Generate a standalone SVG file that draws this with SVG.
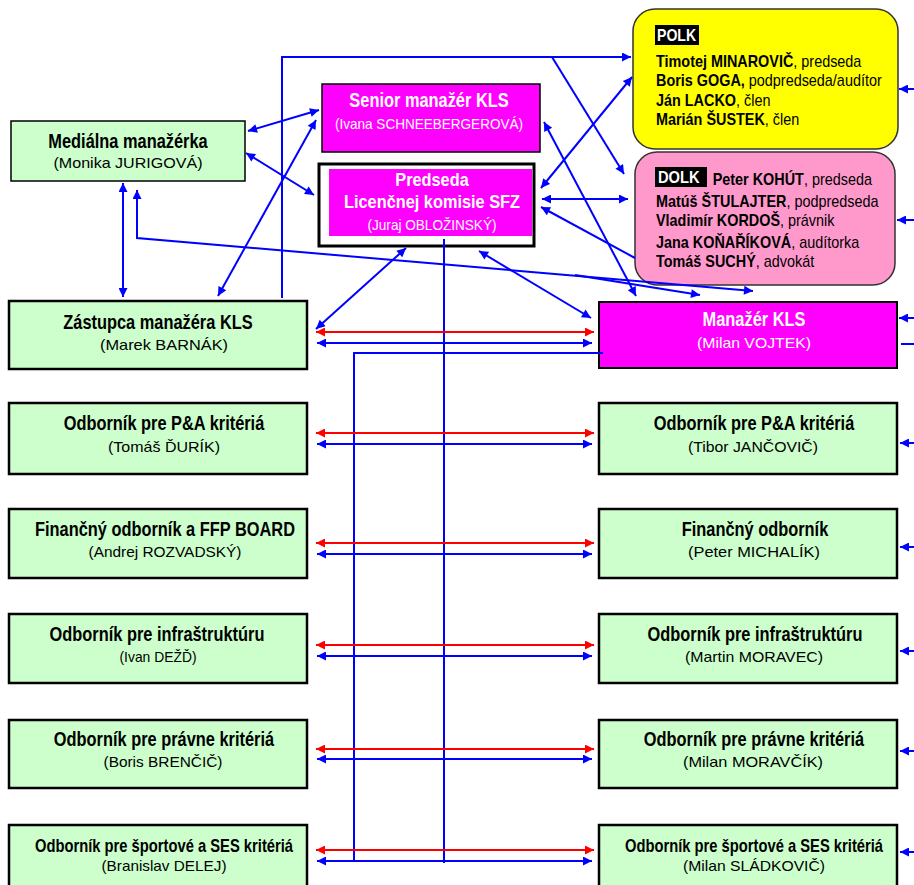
<svg xmlns="http://www.w3.org/2000/svg" width="914" height="885" viewBox="0 0 914 885">
<style>
.g{fill:#ccffcc;stroke:#000;stroke-width:2.5}
.m{fill:#ff00ff;stroke:#000;stroke-width:2}
.t{font-family:"Liberation Sans",Arial,sans-serif;font-weight:bold;font-size:20px;text-anchor:middle;fill:#000}
.s{font-family:"Liberation Sans",Arial,sans-serif;font-size:15px;text-anchor:middle;fill:#000}
.w{fill:#fff}
.p{font-family:"Liberation Sans",Arial,sans-serif;font-size:16px;fill:#000}
.b{font-weight:bold}
.cb{fill:none;stroke:#0000ff;stroke-width:2}
.cr{fill:none;stroke:#ff0000;stroke-width:2}
</style>
<defs>
<marker id="ab" viewBox="0 0 10 10" refX="10" refY="5" markerWidth="11" markerHeight="9" markerUnits="userSpaceOnUse" orient="auto-start-reverse"><path d="M0,0 L10,5 L0,10 z" fill="#0000ff"/></marker>
<marker id="ar" viewBox="0 0 10 10" refX="10" refY="5" markerWidth="11" markerHeight="9" markerUnits="userSpaceOnUse" orient="auto-start-reverse"><path d="M0,0 L10,5 L0,10 z" fill="#ff0000"/></marker>
</defs>

<g id="medialna">
<rect x="11" y="121" width="234" height="60" fill="#ccffcc" stroke="#000" stroke-width="1.5"/>
<text class="t" transform="translate(128,148) scale(0.82,1)">Mediálna manažérka</text>
<text class="s" x="128" y="168" textLength="149" lengthAdjust="spacingAndGlyphs">(Monika JURIGOVÁ)</text>
</g>
<g id="senior">
<rect x="322" y="84" width="218" height="68" fill="#ff00ff" stroke="#000" stroke-width="1.5"/>
<text class="t w" transform="translate(429,107) scale(0.82,1)">Senior manažér KLS</text>
<text class="s w" x="429" y="129" font-size="14" textLength="188" lengthAdjust="spacingAndGlyphs">(Ivana SCHNEEBERGEROVÁ)</text>
</g>
<g id="predseda">
<rect x="319" y="164" width="215" height="82" fill="#fff" stroke="#000" stroke-width="3"/>
<rect x="329" y="169" width="203" height="67" fill="#ff00ff"/>
<text class="t w" style="font-size:19px" transform="translate(432,186) scale(0.86,1)">Predseda</text>
<text class="t w" style="font-size:19px" transform="translate(432,208) scale(0.86,1)">Licenčnej komisie SFZ</text>
<text class="s w" x="432" y="230" font-size="14" textLength="129" lengthAdjust="spacingAndGlyphs">(Juraj OBLOŽINSKÝ)</text>
</g>
<g id="polk">
<rect x="633" y="9" width="265" height="140" rx="22" fill="#ffff00" stroke="#333" stroke-width="1.5"/>
<rect x="655" y="25" width="44" height="20" fill="#000"/>
<text class="p b" font-size="17" style="fill:#fff" transform="translate(657,41) scale(0.88,1)">POLK</text>
<g transform="translate(656,0) scale(0.9,1)">
<text class="p" x="0" y="67"><tspan class="b">Timotej MINAROVIČ</tspan>, predseda</text>
<text class="p" x="0" y="86"><tspan class="b">Boris GOGA,</tspan> podpredseda/audítor</text>
<text class="p" x="0" y="106"><tspan class="b">Ján LACKO</tspan>, člen</text>
<text class="p" x="0" y="125"><tspan class="b">Marián ŠUSTEK</tspan>, člen</text>
</g>
</g>
<g id="dolk">
<rect x="635" y="152" width="260" height="133" rx="22" fill="#ff99cc" stroke="#333" stroke-width="1.5"/>
<rect x="655" y="167" width="52" height="20" fill="#000"/>
<text class="p b" font-size="17" style="fill:#fff" transform="translate(658,183) scale(0.92,1)">DOLK</text>
<g transform="translate(656,0) scale(0.9,1)">
<text class="p" x="63" y="185"><tspan class="b">Peter KOHÚT</tspan>, predseda</text>
<text class="p" x="0" y="207"><tspan class="b">Matúš ŠTULAJTER</tspan>, podpredseda</text>
<text class="p" x="0" y="226"><tspan class="b">Vladimír KORDOŠ</tspan>, právnik</text>
<text class="p" x="0" y="248"><tspan class="b">Jana KOŇAŘÍKOVÁ</tspan>, audítorka</text>
<text class="p" x="0" y="267"><tspan class="b">Tomáš SUCHÝ</tspan>, advokát</text>
</g>
</g>

<g id="zastupca">
<rect class="g" x="9" y="301" width="298" height="68"/>
<text class="t" transform="translate(158,329) scale(0.82,1)">Zástupca manažéra KLS</text>
<text class="s" x="164" y="350" textLength="128" lengthAdjust="spacingAndGlyphs">(Marek BARNÁK)</text>
</g>
<g id="manazer">
<rect class="m" x="599" y="302" width="298" height="66" stroke-width="2.5"/>
<text class="t w" transform="translate(754,326) scale(0.82,1)">Manažér KLS</text>
<text class="s w" x="754" y="348" textLength="114" lengthAdjust="spacingAndGlyphs">(Milan VOJTEK)</text>
</g>
<g id="pa-left">
<rect class="g" x="9" y="403" width="298" height="71"/>
<text class="t" transform="translate(164,430) scale(0.82,1)">Odborník pre P&amp;A kritériá</text>
<text class="s" x="164" y="452" textLength="112" lengthAdjust="spacingAndGlyphs">(Tomáš ĎURÍK)</text>
</g>
<g id="pa-right">
<rect class="g" x="599" y="403" width="298" height="71"/>
<text class="t" transform="translate(754,430) scale(0.82,1)">Odborník pre P&amp;A kritériá</text>
<text class="s" x="753" y="452" textLength="130" lengthAdjust="spacingAndGlyphs">(Tibor JANČOVIČ)</text>
</g>
<g id="fin-left">
<rect class="g" x="9" y="509" width="298" height="69"/>
<text class="t" transform="translate(165,536) scale(0.82,1)">Finančný odborník a FFP BOARD</text>
<text class="s" x="165" y="557" textLength="153" lengthAdjust="spacingAndGlyphs">(Andrej ROZVADSKÝ)</text>
</g>
<g id="fin-right">
<rect class="g" x="599" y="509" width="298" height="69"/>
<text class="t" transform="translate(755,536) scale(0.82,1)">Finančný odborník</text>
<text class="s" x="754" y="557" textLength="132" lengthAdjust="spacingAndGlyphs">(Peter MICHALÍK)</text>
</g>
<g id="infra-left">
<rect class="g" x="9" y="614" width="298" height="69"/>
<text class="t" transform="translate(157,641) scale(0.82,1)">Odborník pre infraštruktúru</text>
<text class="s" x="158" y="662" textLength="77" lengthAdjust="spacingAndGlyphs">(Ivan DEŽĎ)</text>
</g>
<g id="infra-right">
<rect class="g" x="599" y="614" width="298" height="69"/>
<text class="t" transform="translate(755,641) scale(0.82,1)">Odborník pre infraštruktúru</text>
<text class="s" x="754" y="662" textLength="138" lengthAdjust="spacingAndGlyphs">(Martin MORAVEC)</text>
</g>
<g id="pravne-left">
<rect class="g" x="9" y="720" width="298" height="68"/>
<text class="t" transform="translate(164,746) scale(0.82,1)">Odborník pre právne kritériá</text>
<text class="s" x="163" y="767" textLength="119" lengthAdjust="spacingAndGlyphs">(Boris BRENČIČ)</text>
</g>
<g id="pravne-right">
<rect class="g" x="599" y="720" width="298" height="68"/>
<text class="t" transform="translate(754,746) scale(0.82,1)">Odborník pre právne kritériá</text>
<text class="s" x="753" y="767" textLength="140" lengthAdjust="spacingAndGlyphs">(Milan MORAVČÍK)</text>
</g>
<g id="sport-left">
<rect class="g" x="9" y="825" width="298" height="70"/>
<text class="t" style="font-size:18px" transform="translate(164,852) scale(0.82,1)">Odborník pre športové a SES kritériá</text>
<text class="s" x="164" y="871" textLength="125" lengthAdjust="spacingAndGlyphs">(Branislav DELEJ)</text>
</g>
<g id="sport-right">
<rect class="g" x="599" y="825" width="298" height="70"/>
<text class="t" style="font-size:18px" transform="translate(754,852) scale(0.82,1)">Odborník pre športové a SES kritériá</text>
<text class="s" x="754" y="871" textLength="142" lengthAdjust="spacingAndGlyphs">(Milan SLÁDKOVIČ)</text>
</g>

<g id="connectors">
<path class="cb" d="M248,131 L319,110" marker-start="url(#ab)" marker-end="url(#ab)"/>
<path class="cb" d="M246,153 L314,195" marker-start="url(#ab)" marker-end="url(#ab)"/>
<path class="cb" d="M123,183 L123,297" marker-start="url(#ab)" marker-end="url(#ab)"/>
<path class="cb" d="M137,190 L137,238 L753,291" marker-start="url(#ab)" marker-end="url(#ab)"/>
<path class="cb" d="M575,275 L700,295" marker-end="url(#ab)"/>
<path class="cb" d="M218,296 L316,120" marker-start="url(#ab)" marker-end="url(#ab)"/>
<path class="cb" d="M316,329 L406,248" marker-start="url(#ab)" marker-end="url(#ab)"/>
<path class="cb" d="M479,251 L591,318" marker-start="url(#ab)" marker-end="url(#ab)"/>
<path class="cb" d="M544,122 L636,296" marker-start="url(#ab)" marker-end="url(#ab)"/>
<path class="cb" d="M541,188 L632,77" marker-start="url(#ab)" marker-end="url(#ab)"/>
<path class="cb" d="M542,199 L628,199" marker-start="url(#ab)" marker-end="url(#ab)"/>
<path class="cb" d="M635,258 L541,207" marker-end="url(#ab)"/>
<path class="cb" d="M282,298 L282,57 L631,57" marker-end="url(#ab)"/>
<path class="cb" d="M552,57 L624,174" marker-end="url(#ab)"/>
<path class="cb" d="M603,353 L354,353 L354,861"/>
<path class="cb" d="M444,239 L444,863"/>
<path class="cr" d="M316,332 L594,332" marker-start="url(#ar)" marker-end="url(#ar)"/>
<path class="cb" d="M317,343 L592,343" marker-start="url(#ab)" marker-end="url(#ab)"/>
<path class="cr" d="M316,433 L594,433" marker-start="url(#ar)" marker-end="url(#ar)"/>
<path class="cb" d="M317,444 L592,444" marker-start="url(#ab)" marker-end="url(#ab)"/>
<path class="cr" d="M316,543 L594,543" marker-start="url(#ar)" marker-end="url(#ar)"/>
<path class="cb" d="M317,554 L592,554" marker-start="url(#ab)" marker-end="url(#ab)"/>
<path class="cr" d="M316,645 L594,645" marker-start="url(#ar)" marker-end="url(#ar)"/>
<path class="cb" d="M317,656 L592,656" marker-start="url(#ab)" marker-end="url(#ab)"/>
<path class="cr" d="M316,749 L594,749" marker-start="url(#ar)" marker-end="url(#ar)"/>
<path class="cb" d="M317,759 L592,759" marker-start="url(#ab)" marker-end="url(#ab)"/>
<path class="cr" d="M316,850 L594,850" marker-start="url(#ar)" marker-end="url(#ar)"/>
<path class="cb" d="M317,861 L592,861" marker-start="url(#ab)" marker-end="url(#ab)"/>
<path class="cb" d="M914,89 L899,89" marker-end="url(#ab)"/>
<path class="cb" d="M914,220 L897,220" marker-end="url(#ab)"/>
<path class="cb" d="M914,318 L899,318" marker-end="url(#ab)"/>
<path class="cb" d="M901,344 L914,344"/>
<path class="cb" d="M914,443 L900,443" marker-end="url(#ab)"/>
<path class="cb" d="M914,547 L900,547" marker-end="url(#ab)"/>
<path class="cb" d="M914,651 L900,651" marker-end="url(#ab)"/>
<path class="cb" d="M914,751 L900,751" marker-end="url(#ab)"/>
<path class="cb" d="M914,852 L900,852" marker-end="url(#ab)"/>
</g>
</svg>
